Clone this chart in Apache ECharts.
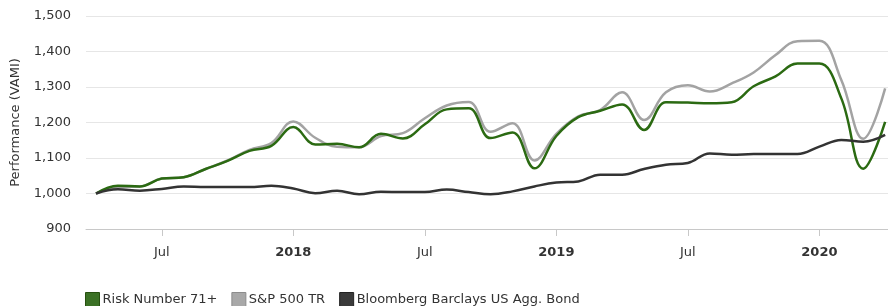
<!DOCTYPE html>
<html>
<head>
<meta charset="utf-8">
<script src="https://cdn.jsdelivr.net/npm/echarts@6/dist/echarts.min.js"></script>
<style>
  html, body { margin: 0; padding: 0; background: #fff; }
  #container { width: 888px; height: 306px; }
</style>
</head>
<body>
<div id="container"></div>
<script>
  // month index: 0 = Jan 2017, first point (Apr 2017) = 3
  let monthIdx = [];
  for (let i = 3; i <= 39; i++) monthIdx.push(i);

  let riskNumber = [1000, 1022, 1020, 1042, 1046, 1069, 1092, 1120, 1134, 1187,
    1138, 1140, 1130, 1168, 1155, 1195, 1237, 1240, 1156, 1172,
    1071, 1162, 1215, 1233, 1251, 1179, 1257, 1256, 1254, 1257,
    1302, 1330, 1366, 1366, 1268, 1070, 1202];
  let sp500 = [1000, 1018, 1020, 1042, 1046, 1069, 1093, 1123, 1142, 1203,
    1157, 1132, 1130, 1162, 1170, 1212, 1248, 1258, 1174, 1198,
    1093, 1168, 1217, 1235, 1285, 1207, 1285, 1305, 1287, 1310,
    1341, 1390, 1429, 1430, 1320, 1154, 1296];
  let bond = [1000, 1012, 1008, 1013, 1020, 1018, 1018, 1018, 1022, 1014,
    1001, 1008, 998, 1005, 1004, 1004, 1011, 1004, 998, 1006,
    1020, 1031, 1034, 1053, 1053, 1069, 1081, 1086, 1113, 1109,
    1111, 1111, 1111, 1132, 1151, 1146, 1165];

  let seriesNames = ['Risk Number 71+', 'S&P 500 TR', 'Bloomberg Barclays US Agg. Bond'];
  let xTicks = [6, 12, 18, 24, 30, 36];
  let yTicks = [900, 1000, 1100, 1200, 1300, 1400, 1500];

  function pairs(values) {
    return values.map((v, i) => [monthIdx[i], v]);
  }

  let dom = document.getElementById('container');
  let myChart = echarts.init(dom);
  let font = 'DejaVu Sans, Verdana, sans-serif';

  let option = {
    animation: false,
    textStyle: {fontFamily: font},
    color: ['#a3a3a3', '#2b6a12', '#333333'],
    grid: {left: 86, right: 0, top: 16, bottom: 77, outerBoundsMode: 'none'},
    legend: {
      left: 80,
      top: 287,
      itemWidth: 14,
      itemHeight: 14,
      itemGap: 14,
      icon: 'rect',
      textStyle: {fontSize: 13, color: '#333', fontFamily: font, padding: [0, 0, 0, -2]},
      data: [
        {name: seriesNames[0], itemStyle: {color: '#3b7125', borderColor: '#275010', borderWidth: 1}},
        {name: seriesNames[1], itemStyle: {color: '#a8a8a8', borderColor: '#8c8c8c', borderWidth: 1}},
        {name: seriesNames[2], itemStyle: {color: '#3a3a3a', borderColor: '#222', borderWidth: 1}}
      ]
    },
    xAxis: {
      type: 'value',
      min: 2.544,
      max: 39.13,
      splitLine: {show: false},
      axisLine: {lineStyle: {color: '#c8c8c8'}},
      axisTick: {
        customValues: xTicks,
        length: 7,
        lineStyle: {color: '#c8c8c8'}
      },
      axisLabel: {
        customValues: xTicks,
        margin: 17,
        fontSize: 13,
        color: '#333',
        fontFamily: font,
        formatter: function (v) {
          if (v % 12 === 0) return '{b|' + (2017 + v / 12) + '}';
          return 'Jul';
        },
        rich: {
          b: {fontWeight: 'bold', fontSize: 13, color: '#333', fontFamily: font}
        }
      }
    },
    yAxis: {
      type: 'value',
      min: yTicks[0],
      max: yTicks[yTicks.length - 1],
      interval: 100,
      name: 'Performance (VAMI)',
      nameLocation: 'middle',
      nameGap: 64,
      nameTextStyle: {fontSize: 13, color: '#333', fontFamily: font},
      axisLine: {show: false},
      axisTick: {show: false},
      splitLine: {lineStyle: {color: '#e6e6e6'}},
      axisLabel: {
        margin: 15,
        fontSize: 13,
        color: '#333',
        fontFamily: font,
        formatter: function (v) {
          return v.toLocaleString('en-US');
        }
      }
    },
    series: [
      {name: seriesNames[1], type: 'line', smooth: 0.4, symbol: 'none', lineStyle: {width: 2.5}, data: pairs(sp500), z: 2},
      {name: seriesNames[0], type: 'line', smooth: 0.4, symbol: 'none', lineStyle: {width: 2.5}, data: pairs(riskNumber), z: 3},
      {name: seriesNames[2], type: 'line', smooth: 0.4, symbol: 'none', lineStyle: {width: 2.5}, data: pairs(bond), z: 4}
    ]
  };
  myChart.setOption(option, true);
</script>
</body>
</html>
